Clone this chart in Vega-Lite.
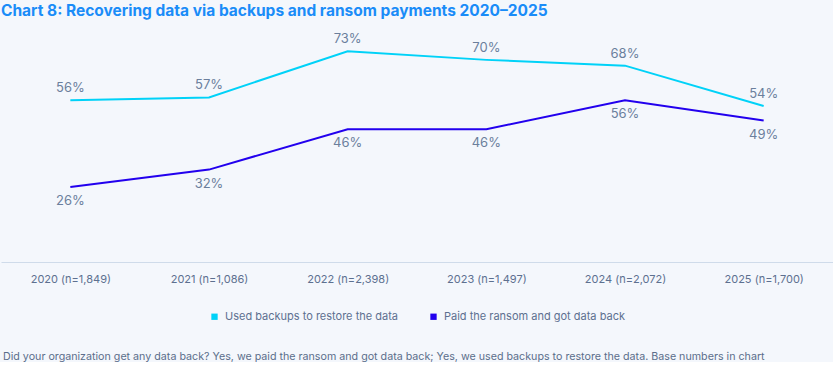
{
  "$schema": "https://vega.github.io/schema/vega-lite/v6.json",
  "background": "#f4f7fc",
  "padding": {"left": 1, "top": 3, "right": 0, "bottom": 0},
  "title": {
    "text": "Did your organization get any data back? Yes, we paid the ransom and got data back; Yes, we used backups to restore the data. Base numbers in chart",
    "orient": "bottom",
    "anchor": "start",
    "font": "Inter",
    "fontSize": 10.7,
    "fontWeight": 400,
    "color": "#5b6e8b",
    "offset": 30,
    "dx": 2
  },
  "data": {
    "values": [
      {"year": "2020 (n=1,849)", "series": "Used backups to restore the data", "value": 0.56},
      {"year": "2021 (n=1,086)", "series": "Used backups to restore the data", "value": 0.57},
      {"year": "2022 (n=2,398)", "series": "Used backups to restore the data", "value": 0.73},
      {"year": "2023 (n=1,497)", "series": "Used backups to restore the data", "value": 0.70},
      {"year": "2024 (n=2,072)", "series": "Used backups to restore the data", "value": 0.68},
      {"year": "2025 (n=1,700)", "series": "Used backups to restore the data", "value": 0.54},
      {"year": "2020 (n=1,849)", "series": "Paid the ransom and got data back", "value": 0.26},
      {"year": "2021 (n=1,086)", "series": "Paid the ransom and got data back", "value": 0.32},
      {"year": "2022 (n=2,398)", "series": "Paid the ransom and got data back", "value": 0.46},
      {"year": "2023 (n=1,497)", "series": "Paid the ransom and got data back", "value": 0.46},
      {"year": "2024 (n=2,072)", "series": "Paid the ransom and got data back", "value": 0.56},
      {"year": "2025 (n=1,700)", "series": "Paid the ransom and got data back", "value": 0.49}
    ]
  },
  "resolve": {"legend": {"color": "independent"}},
  "vconcat": [
    {
      "width": 832,
      "height": 231,
      "title": {
        "text": "Chart 8: Recovering data via backups and ransom payments 2020–2025",
        "anchor": "start",
        "font": "Inter",
        "fontSize": 15.5,
        "fontWeight": 700,
        "color": "#1a8cf8",
        "offset": 12
      },
      "encoding": {
        "x": {
          "field": "year",
          "type": "ordinal",
          "sort": null,
          "scale": {"type": "point", "padding": 0.5},
          "axis": {
            "title": null,
            "labelAngle": 0,
            "ticks": false,
            "grid": false,
            "domainColor": "#cfdbea",
            "domainWidth": 1,
            "labelColor": "#5d7090",
            "labelFont": "Inter",
            "labelFontSize": 11,
            "labelPadding": 11
          }
        },
        "y": {
          "field": "value",
          "type": "quantitative",
          "scale": {"domain": [0, 0.8]},
          "axis": null
        }
      },
      "layer": [
        {
          "mark": {"type": "line", "strokeWidth": 2},
          "encoding": {
            "color": {
              "field": "series",
              "type": "nominal",
              "sort": ["Used backups to restore the data", "Paid the ransom and got data back"],
              "scale": {
                "domain": ["Used backups to restore the data", "Paid the ransom and got data back"],
                "range": ["#00d2f8", "#2200ee"]
              },
              "legend": {
                "title": null,
                "orient": "bottom",
                "direction": "horizontal",
                "symbolType": "square",
                "symbolSize": 40,
                "symbolStrokeWidth": 0,
                "labelFont": "Inter",
                "labelFontSize": 11,
                "labelColor": "#5d7090",
                "labelOffset": 5,
                "labelLimit": 400,
                "columnPadding": 30,
                "offset": 27,
                "encode": {
                  "symbols": {
                    "update": {
                      "fill": {"scale": "color", "field": "value"},
                      "fillOpacity": {"value": 1}
                    }
                  }
                }
              }
            }
          }
        },
        {
          "transform": [{"filter": "datum.series === 'Used backups to restore the data'"}],
          "mark": {"type": "text", "baseline": "alphabetic", "dy": -8, "font": "Inter", "fontSize": 13, "color": "#6b7f9c"},
          "encoding": {"text": {"field": "value", "type": "quantitative", "format": ".0%"}}
        },
        {
          "transform": [{"filter": "datum.series === 'Paid the ransom and got data back'"}],
          "mark": {"type": "text", "baseline": "top", "dy": 8, "font": "Inter", "fontSize": 13, "color": "#6b7f9c"},
          "encoding": {"text": {"field": "value", "type": "quantitative", "format": ".0%"}}
        }
      ]
    }
  ],
  "config": {
    "view": {"stroke": null},
    "legend": {"layout": {"bottom": {"anchor": "middle"}}}
  }
}
